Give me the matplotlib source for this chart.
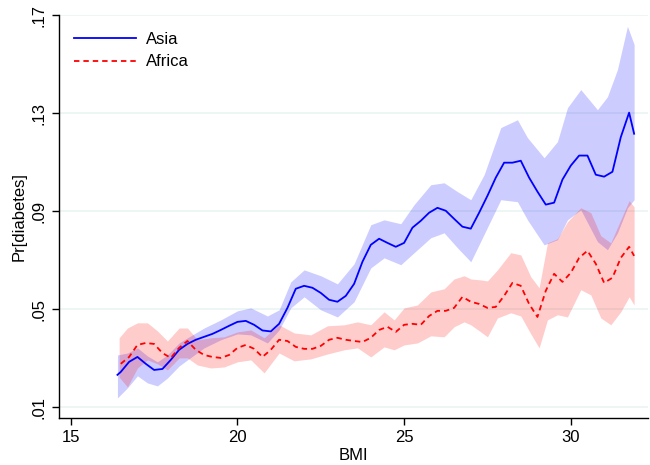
import matplotlib
matplotlib.use("Agg")
import matplotlib.pyplot as plt
from matplotlib.lines import Line2D

plt.rcParams['font.family'] = ['Liberation Sans', 'DejaVu Sans']

# ---- Asia: smoothed prediction ----
asia_x = [16.4, 16.5, 16.75, 17.0, 17.25, 17.5, 17.75, 18.0, 18.25, 18.5, 18.75, 19.0,
          19.25, 19.5, 19.75, 20.0, 20.25, 20.5, 20.75, 21.0, 21.25, 21.5, 21.75, 22.0,
          22.25, 22.5, 22.75, 23.0, 23.25, 23.5, 23.75, 24.0, 24.25, 24.5, 24.75, 25.0,
          25.25, 25.5, 25.75, 26.0, 26.25, 26.5, 26.75, 27.0, 27.25, 27.5, 27.75, 28.0,
          28.25, 28.5, 28.75, 29.0, 29.25, 29.5, 29.75, 30.0, 30.25, 30.5, 30.75, 31.0,
          31.25, 31.5, 31.75, 31.9]
asia_y = [.0233, .0245, .0286, .0306, .0278, .0253, .0257, .0294, .0335, .0359, .0376, .0388,
          .0400, .0416, .0433, .0449, .0453, .0437, .0414, .0410, .0441, .0506, .0584, .0596,
          .0588, .0567, .0539, .0531, .0555, .0604, .0694, .0763, .0788, .0771, .0755, .0771,
          .0833, .0861, .0894, .0914, .0902, .0869, .0837, .0829, .0894, .0963, .1037, .1098,
          .1098, .1106, .1037, .0980, .0927, .0935, .1029, .1086, .1127, .1127, .1049, .1041,
          .1061, .1202, .1302, .1216]

asia_band_x = [16.4, 16.7, 17.0, 17.3, 17.6, 17.9, 18.25, 18.5, 19.0, 19.5, 20.0, 20.4,
               20.9, 21.25, 21.6, 22.0, 22.5, 23.0, 23.5, 24.0, 24.4, 24.9, 25.3, 25.8,
               26.2, 26.6, 27.0, 27.4, 27.9, 28.4, 28.7, 29.2, 29.6, 29.9, 30.3, 30.8,
               31.1, 31.4, 31.7, 31.9]
asia_hi = [.0314, .0322, .0343, .0310, .0286, .0314, .0363, .0384, .0424, .0457, .0494, .0506,
           .0473, .0498, .0612, .0661, .0637, .0604, .0686, .0845, .0865, .0849, .0927, .1008,
           .1016, .0980, .0947, .1049, .1241, .1273, .1200, .1118, .1184, .1322, .1396, .1314,
           .1367, .1478, .1654, .1580]
asia_lo = [.0139, .0180, .0229, .0200, .0188, .0220, .0269, .0294, .0343, .0376, .0400, .0396,
           .0363, .0416, .0506, .0551, .0498, .0469, .0531, .0669, .0710, .0682, .0731, .0792,
           .0812, .0751, .0694, .0806, .0947, .0939, .0865, .0763, .0784, .0865, .0906, .0776,
           .0743, .0812, .0914, .0947]

# ---- Africa: smoothed prediction ----
africa_x = [16.5, 16.75, 17.0, 17.25, 17.5, 17.75, 18.0, 18.25, 18.5, 18.75, 19.0, 19.25,
            19.5, 19.75, 20.0, 20.25, 20.5, 20.75, 21.0, 21.25, 21.5, 21.75, 22.0, 22.25,
            22.5, 22.75, 23.0, 23.25, 23.5, 23.75, 24.0, 24.25, 24.5, 24.75, 25.0, 25.25,
            25.5, 25.75, 26.0, 26.25, 26.5, 26.75, 27.0, 27.25, 27.5, 27.75, 28.0, 28.25,
            28.5, 28.75, 29.0, 29.25, 29.5, 29.75, 30.0, 30.25, 30.5, 30.75, 31.0, 31.25,
            31.5, 31.75, 31.9]
africa_y = [.0278, .0306, .0355, .0363, .0359, .0322, .0302, .0343, .0371, .0335, .0314, .0306,
            .0302, .0314, .0343, .0355, .0339, .0306, .0335, .0376, .0371, .0347, .0339, .0339,
            .0351, .0376, .0384, .0376, .0371, .0367, .0384, .0416, .0429, .0408, .0437, .0441,
            .0437, .0473, .0494, .0494, .0506, .0551, .0531, .0522, .0506, .0510, .0555, .0608,
            .0596, .0522, .0469, .0576, .0645, .0612, .0649, .0710, .0739, .0686, .0608, .0629,
            .0710, .0755, .0718]

africa_band_x = [16.45, 16.7, 17.0, 17.3, 17.6, 17.9, 18.25, 18.5, 18.8, 19.2, 19.6, 20.0,
                 20.4, 20.8, 21.25, 21.7, 22.2, 22.7, 23.2, 23.6, 24.0, 24.4, 24.7, 25.0,
                 25.4, 25.8, 26.2, 26.5, 26.8, 27.0, 27.3, 27.5, 27.8, 28.2, 28.5, 28.8,
                 29.05, 29.3, 29.6, 29.9, 30.3, 30.6, 30.9, 31.2, 31.5, 31.75, 31.9]
africa_hi = [.0384, .0424, .0445, .0445, .0412, .0371, .0424, .0424, .0376, .0384, .0388, .0408,
             .0416, .0384, .0437, .0404, .0396, .0433, .0437, .0449, .0437, .0490, .0457, .0506,
             .0518, .0571, .0584, .0624, .0637, .0624, .0620, .0616, .0661, .0731, .0722, .0633,
             .0588, .0771, .0788, .0857, .0914, .0894, .0800, .0771, .0865, .0943, .0918]
africa_lo = [.0224, .0184, .0261, .0294, .0278, .0253, .0302, .0302, .0273, .0261, .0265, .0286,
             .0294, .0241, .0322, .0290, .0298, .0318, .0335, .0343, .0306, .0347, .0335, .0355,
             .0363, .0392, .0388, .0429, .0449, .0437, .0408, .0388, .0465, .0486, .0473, .0400,
             .0343, .0457, .0478, .0469, .0580, .0559, .0465, .0437, .0490, .0551, .0518]

x_ticks = [15, 20, 25, 30]
y_ticks = [.01, .05, .09, .13, .17]
y_tick_labels = ['.01', '.05', '.09', '.13', '.17']
series_names = ['Asia', 'Africa']

fig = plt.figure(figsize=(6.5, 4.65), dpi=100)
ax = fig.add_axes([0.0915, 0.1011, 0.9055, 0.8666])

ax.fill_between(asia_band_x, asia_lo, asia_hi, color='#0000FF', alpha=0.2, linewidth=0, zorder=2)
ax.fill_between(africa_band_x, africa_lo, africa_hi, color='#FF0000', alpha=0.2, linewidth=0, zorder=2)
ax.plot(asia_x, asia_y, color='#0000FF', linewidth=1.3, zorder=4)
ax.plot(africa_x, africa_y, color='#FF0000', linewidth=1.3, linestyle=(0, (3, 2.2)), zorder=4)

ax.set_xlim(14.661, 32.318)
ax.set_ylim(0.00571, 0.1700)
ax.set_xticks(x_ticks)
ax.set_yticks(y_ticks)
ax.set_yticklabels(y_tick_labels, rotation=90, va='center')
ax.grid(axis='y', color='#EAF2F3', linewidth=1.1, zorder=0)
ax.set_axisbelow(True)

for s in ['top', 'right']:
    ax.spines[s].set_visible(False)
for s in ['left', 'bottom']:
    ax.spines[s].set_linewidth(1.0)
    ax.spines[s].set_color('black')

ax.tick_params(axis='both', direction='out', length=5, width=1.0, labelsize=12, colors='black')
ax.tick_params(axis='y', pad=4)
ax.tick_params(axis='x', pad=4)

ax.set_xlabel('BMI', fontsize=12, labelpad=2)
ax.set_ylabel('Pr[diabetes]', fontsize=12, labelpad=4)

handles = [Line2D([], [], color='#0000FF', linewidth=1.3),
           Line2D([], [], color='#FF0000', linewidth=1.3, linestyle=(0, (3, 2.2)))]
ax.legend(handles, series_names, loc='upper left', frameon=False, fontsize=12,
          handlelength=3.7, handletextpad=0.6, labelspacing=0.45,
          bbox_to_anchor=(0.005, 0.987), borderaxespad=0.3)

fig.savefig('out.png', dpi=100, facecolor='white')
